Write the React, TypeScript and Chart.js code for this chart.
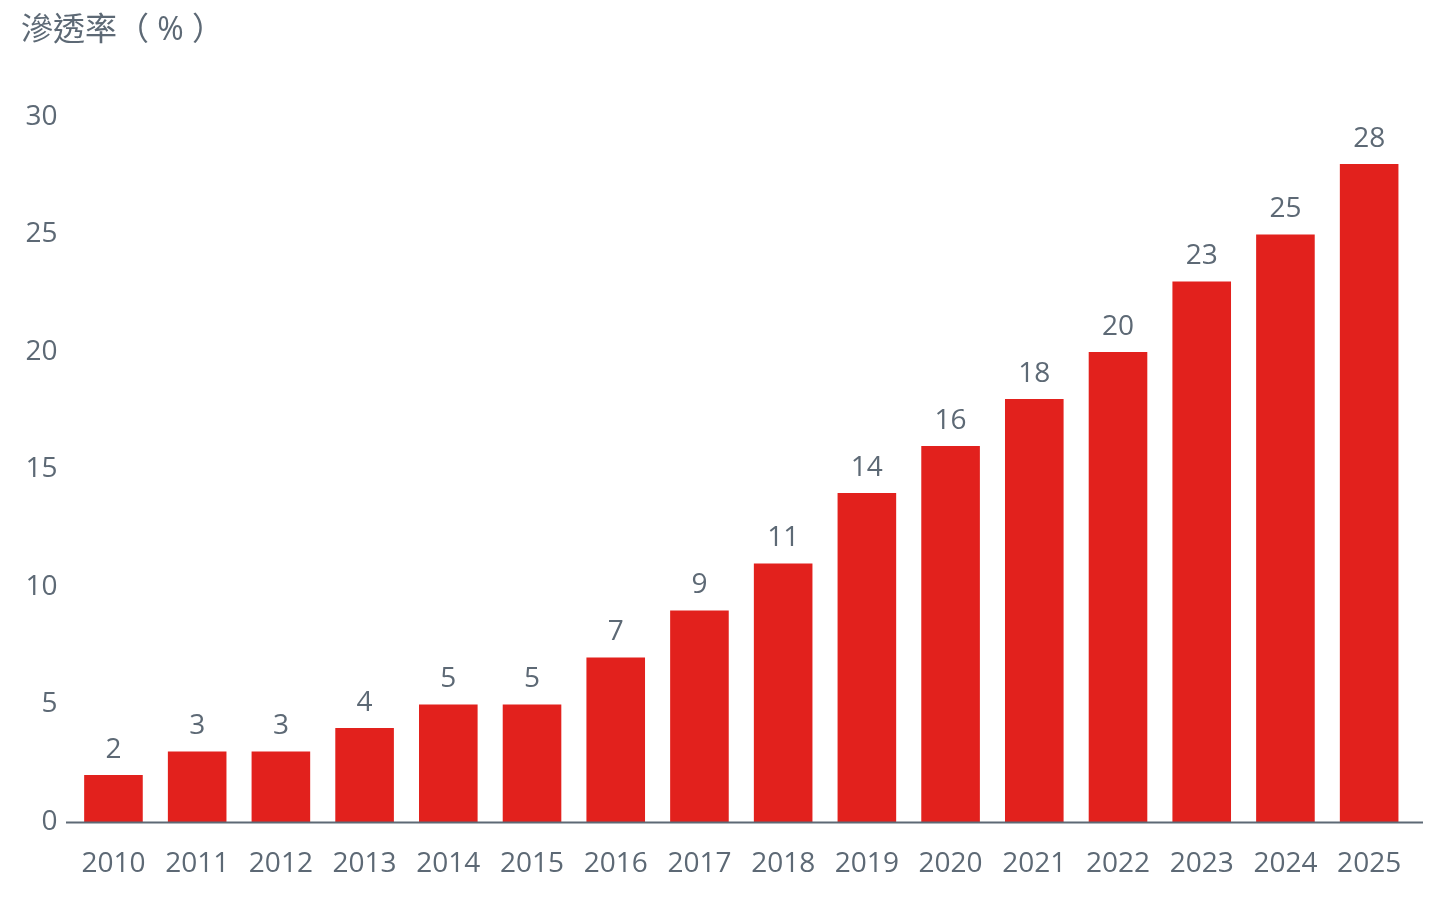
import React, { useEffect, useRef } from "react";
import { Chart, registerables } from "chart.js";

Chart.register(...registerables);

const years = ["2010", "2011", "2012", "2013", "2014", "2015", "2016", "2017", "2018", "2019", "2020", "2021", "2022", "2023", "2024", "2025"];
const penetration = [2, 3, 3, 4, 5, 5, 7, 9, 11, 14, 16, 18, 20, 23, 25, 28];
const valueLabels = ["2", "3", "3", "4", "5", "5", "7", "9", "11", "14", "16", "18", "20", "23", "25", "28"];
const yTicks = [0, 5, 10, 15, 20, 25, 30];
const titleText = "滲透率（ % ）";

const TEXT = "#5d6975";
const RED = "#e2211d";
const FONT = '"Open Sans", "Noto Sans CJK TC", sans-serif';

const overlay = {
  id: "overlay",
  afterDatasetsDraw(chart: any) {
    const ctx = chart.ctx;
    const area = chart.chartArea;
    ctx.save();
    // baseline
    ctx.strokeStyle = TEXT;
    ctx.lineWidth = 2;
    ctx.beginPath();
    ctx.moveTo(66, area.bottom + 0.5);
    ctx.lineTo(1423, area.bottom + 0.5);
    ctx.stroke();
    // value labels
    ctx.fillStyle = TEXT;
    ctx.font = `28px ${FONT}`;
    ctx.textAlign = "center";
    ctx.textBaseline = "middle";
    const meta = chart.getDatasetMeta(0);
    meta.data.forEach((bar: any, i: number) => {
      ctx.fillText(valueLabels[i], bar.x, bar.y - 25);
    });
    // title
    ctx.textAlign = "left";
    ctx.font = `32px ${FONT}`;
    ctx.fillText(titleText, 21, 31);
    ctx.restore();
  },
};

export default function App() {
  const ref = useRef<HTMLCanvasElement | null>(null);
  useEffect(() => {
    if (!ref.current) return;
    const chart = new Chart(ref.current, {
      type: "bar",
      data: {
        labels: years,
        datasets: [
          {
            data: penetration,
            backgroundColor: RED,
            borderWidth: 0,
            barPercentage: 0.7,
            categoryPercentage: 1,
          },
        ],
      },
      options: {
        responsive: false,
        animation: false,
        layout: { padding: { left: 0, right: 23, top: 117, bottom: 0 } },
        plugins: { legend: { display: false }, tooltip: { enabled: false }, title: { display: false } },
        scales: {
          x: {
            grid: { display: false, drawTicks: false },
            border: { display: false },
            ticks: { color: TEXT, font: { family: FONT, size: 28 }, padding: 25, maxRotation: 0, autoSkip: false },
            afterFit: (s: any) => {
              s.height = 90;
            },
          },
          y: {
            min: 0,
            max: 30,
            grid: { display: false, drawTicks: false },
            border: { display: false },
            afterBuildTicks: (s: any) => {
              s.ticks = yTicks.map((v) => ({ value: v }));
            },
            ticks: { color: TEXT, font: { family: FONT, size: 28 }, padding: 14 },
            afterFit: (s: any) => {
              s.width = 71.6;
            },
          },
        },
      },
      plugins: [overlay],
    });
    return () => chart.destroy();
  }, []);
  return (
    <div style={{ position: "fixed", left: 0, top: 0, width: 1434, height: 912, background: "#fff" }}>
      <canvas ref={ref} width={1434} height={912} style={{ display: "block" }} />
    </div>
  );
}
